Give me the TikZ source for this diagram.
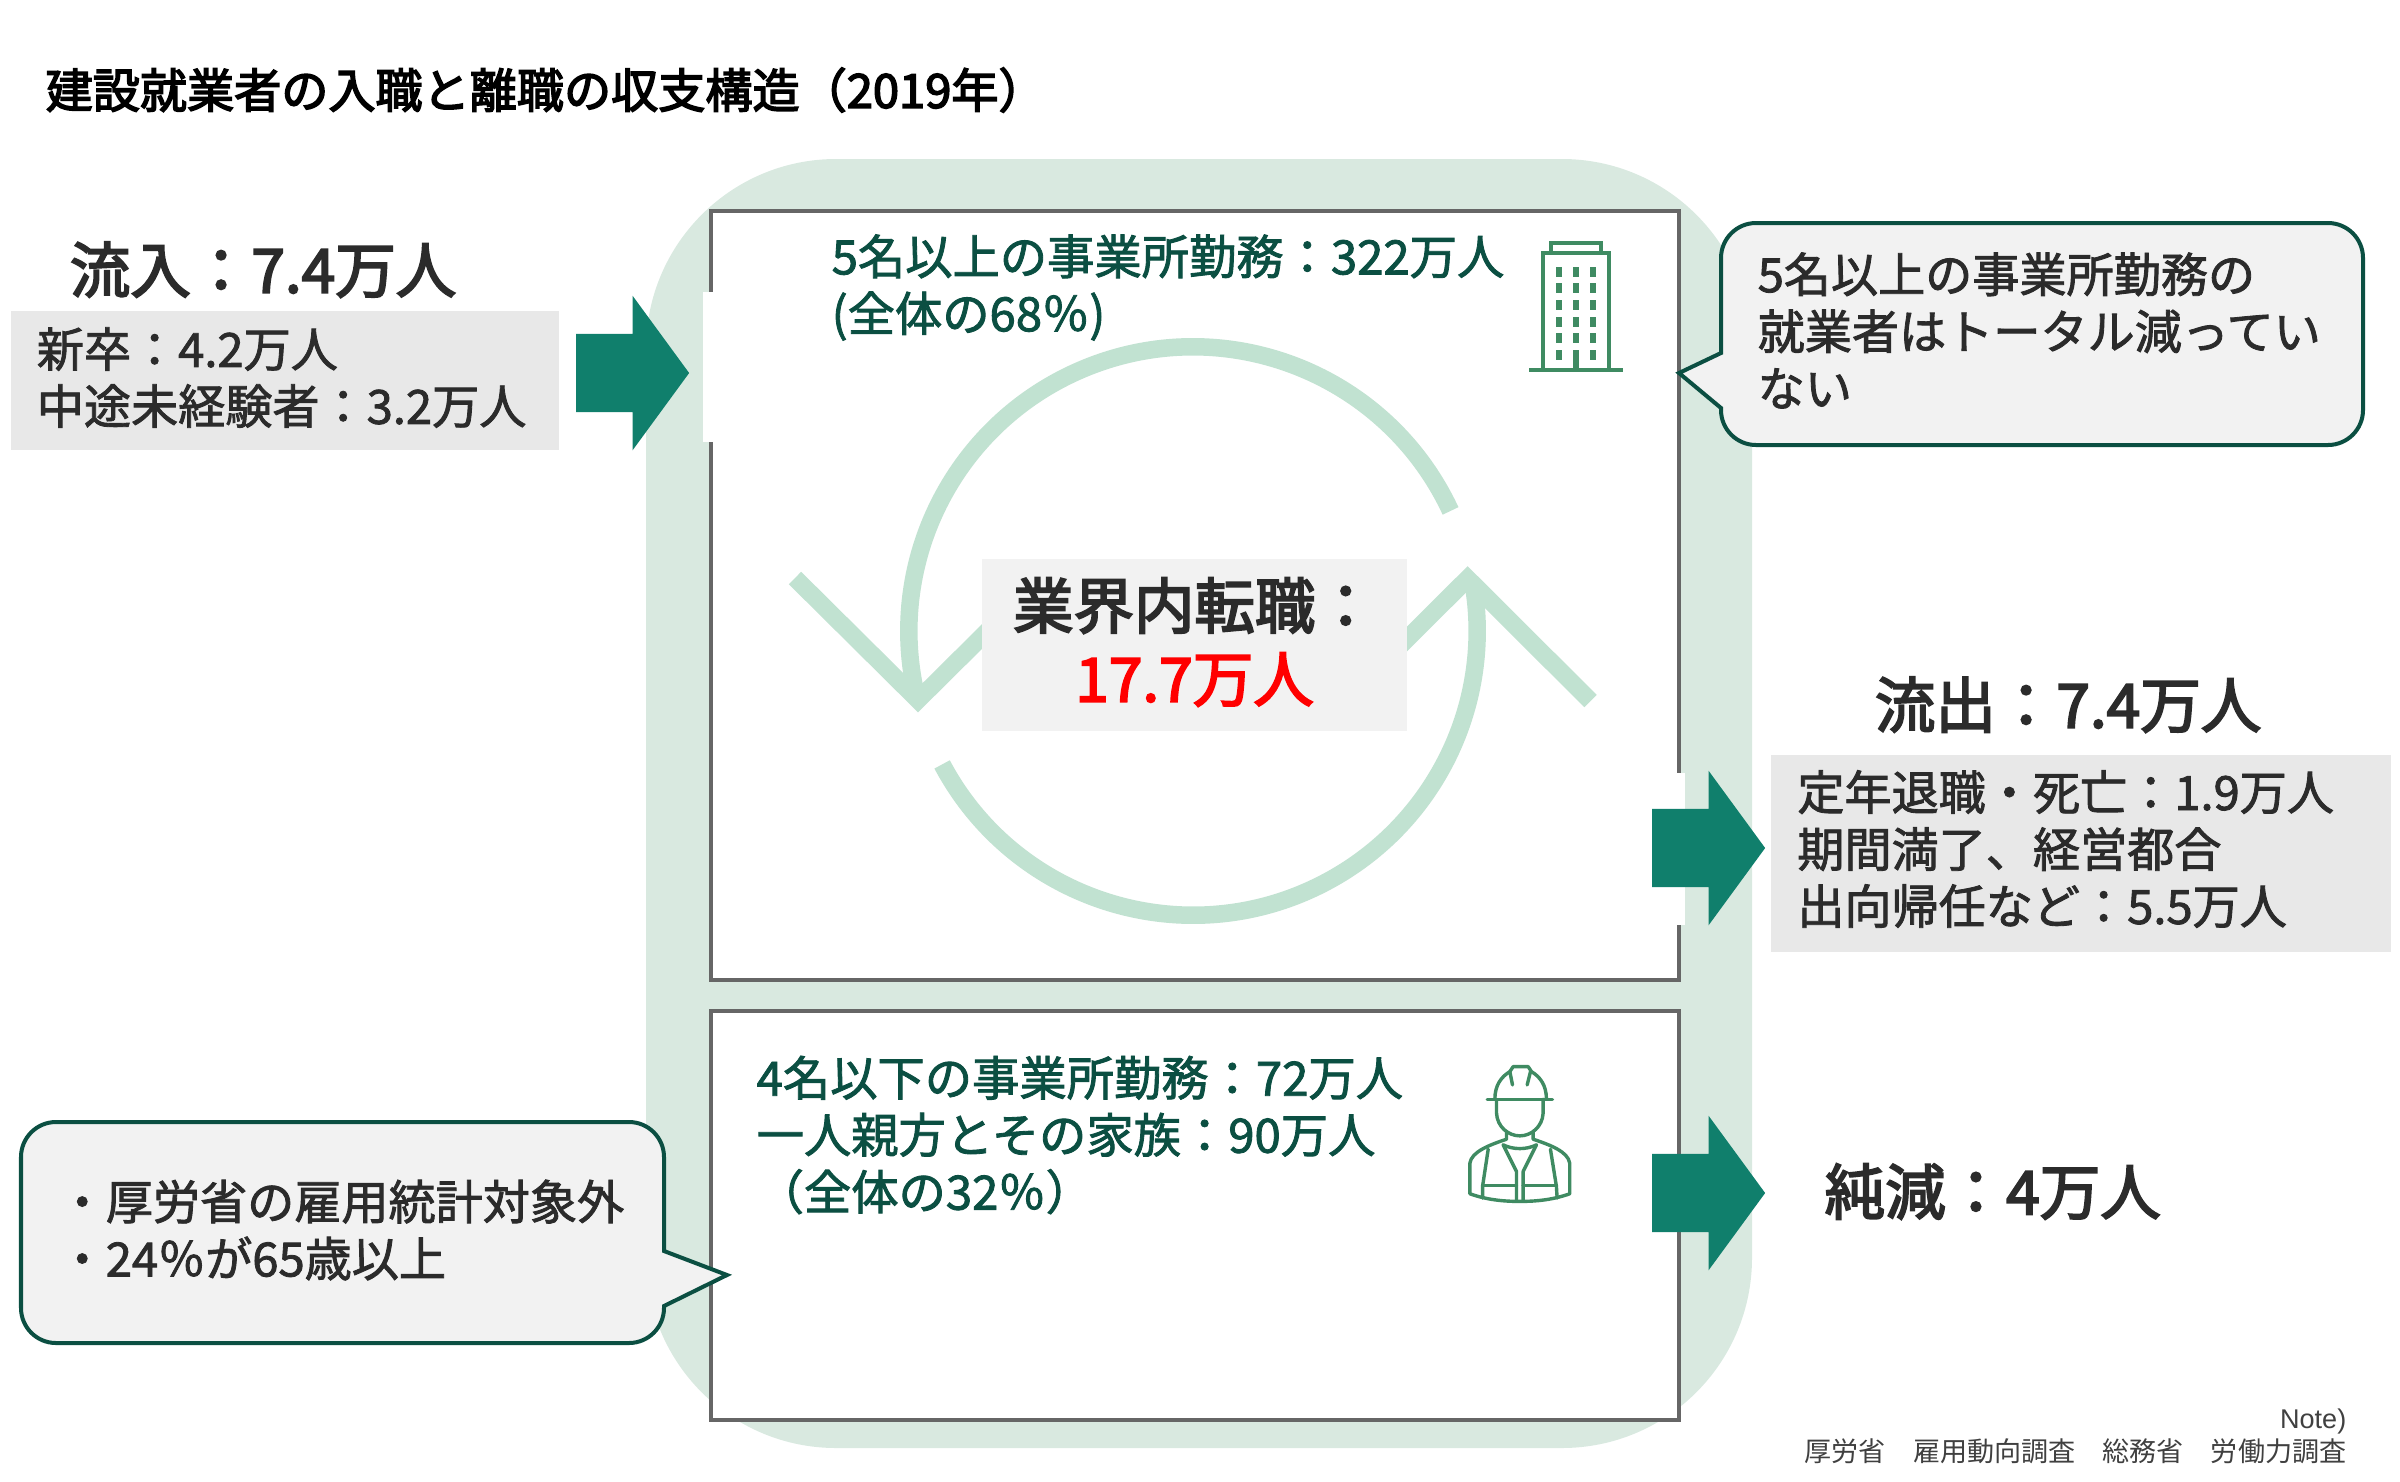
\documentclass[tikz,border=0pt]{standalone}
\usepackage{fontspec}
\usepackage{xcolor}
\usetikzlibrary{positioning,shapes.arrows}
\setmainfont{Noto Sans CJK JP}
\newfontfamily\jpmed[FakeBold=1.8]{Noto Sans CJK JP}
\newfontfamily\jpheavy[FakeBold=3.2]{Noto Sans CJK JP}
\newfontfamily\notefont{Liberation Sans}
\definecolor{poolgreen}{HTML}{D9E9E0}
\definecolor{ringgreen}{HTML}{C1E2D1}
\definecolor{arrowgreen}{HTML}{107F6C}
\definecolor{darkgreen}{HTML}{0B4F42}
\definecolor{icongreen}{HTML}{3F8B62}
\definecolor{boxline}{HTML}{666666}
\definecolor{inkgray}{HTML}{2B2B2B}

\begin{document}
\begin{tikzpicture}
[x=0.01cm, y=-0.01cm,
% STYLES
every node/.style={inner sep=0pt, font=\jpmed, text=inkgray},
% The sector style is used to draw the two white boxes
sector/.style={draw=boxline, fill=white, line width=0.04cm},
% The flowarrow style is used to draw the thick arrows
flowarrow/.style={shape=single arrow, fill=arrowgreen, inner xsep=0pt, inner ysep=0.385cm, minimum width=1.53cm, minimum height=1.13cm, single arrow head extend=0.38cm, single arrow tip angle=107.6, anchor=tip},
% The count style is used to draw the grey boxes with figures
count/.style={rectangle, fill=black!9, align=left, font=\jpmed\fontsize{13.4}{16.2}\selectfont},
heading/.style={font=\jpheavy\fontsize{17.2}{21}\selectfont},
sectortext/.style={anchor=west, align=left, text=darkgreen, font=\jpmed\fontsize{13.45}{16.2}\selectfont},
callout/.style={draw=darkgreen, fill=black!5, line width=0.04cm, line join=miter},
callouttext/.style={anchor=west, align=left, font=\jpmed\fontsize{13.4}{16.2}\selectfont},
ring/.style={draw=ringgreen, line width=0.175cm},
icon/.style={draw=icongreen, line width=0.034cm}]

\useasboundingbox (0,0) rectangle (2400,1481);

% Draw pool and sectors
\fill[poolgreen, rounded corners=1.9cm] (646,159) rectangle (1752,1448);
\draw[sector] (711,211) rectangle (1679,980);
\draw[sector] (711,1011) rectangle (1679,1420);
\fill[white] (703,292) rectangle (760,442);
\fill[white] (1650,773) rectangle (1685,925);

\node [anchor=west, font=\jpheavy\fontsize{13.4}{16}\selectfont, text=black] (title) at (45,90) {建設就業者の入職と離職の収支構造（2019年）};

% Draw ring
\coordinate (ringc) at (1193,631);
\draw[ring] (ringc) ++(25:2.84cm) arc[start angle=25, end angle=192, radius=2.84cm];
\draw[ring] (ringc) ++(208:2.84cm) arc[start angle=208, end angle=370, radius=2.84cm];
\draw[ring] (795,578) -- (918,700) -- (1041,578);
\draw[ring] (1345,701) -- (1467.6,578.5) -- (1590.5,701);
\node [rectangle, fill=black!5, minimum width=4.25cm, minimum height=1.72cm, text width=4.25cm, align=center, font=\jpheavy\fontsize{17.2}{20.8}\selectfont] (moves) at (1194.5,645) {業界内転職：\\ \textcolor{red}{17.7万人}\par\vspace{0.06cm}};

% Draw arrows
\node [flowarrow] (arrow-in) at (690,373) {};
\node [flowarrow] (arrow-out) at (1766,848) {};
\node [flowarrow] (arrow-net) at (1766,1193) {};

% Flows
\node [count, minimum width=5.48cm, minimum height=1.39cm, text width=4.96cm] (count-in) at (285,380.5) {新卒：4.2万人\\中途未経験者：3.2万人\par\vspace{0.06cm}};
\node [heading, above right=0.12cm and 0.59cm of count-in.north west] (head-in) {流入：7.4万人};
\node [count, minimum width=6.2cm, minimum height=1.97cm, text width=5.67cm] (count-out) at (2081,853.5) {定年退職・死亡：1.9万人\\期間満了、経営都合\\出向帰任など：5.5万人\par\vspace{0.09cm}};
\node [heading, above right=0.21cm and 1.04cm of count-out.north west] (head-out) {流出：7.4万人};
\node [heading, anchor=west] (head-net) at (1824,1191.5) {純減：4万人};

% Sector labels
\node [sectortext] (large) at (831,287.5) {5名以上の事業所勤務：322万人\\(全体の68％)};
\node [sectortext] (small) at (756,1135) {4名以下の事業所勤務：72万人\\一人親方とその家族：90万人\\（全体の32％）};

% Callouts
\draw[callout] (1721,353) [rounded corners=0.35cm] -- (1721,223) -- (2363,223) -- (2363,445) -- (1721,445) [sharp corners] -- (1721,408) -- (1679,373) -- cycle;
\node [callouttext] (note-large) at (1757,330.5) {5名以上の事業所勤務の\\就業者はトータル減ってい\\ない};
\draw[callout] (664,1251) [rounded corners=0.35cm] -- (664,1122) -- (21,1122) -- (21,1343) -- (664,1343) [sharp corners] -- (664,1306) -- (727,1275) -- cycle;
\node [callouttext] (note-small) at (58,1230) {・厚労省の雇用統計対象外\\・24％が65歳以上};

% Source
\node [anchor=north east, align=right, text=black!75, font=\fontsize{7.7}{9.4}\selectfont] (source) at (2347,1408) {{\notefont Note)}\\厚労省　雇用動向調査　総務省　労働力調査};

% Building icon
\draw[icon] (1529,370) -- (1623,370);
\draw[icon] (1543,370) -- (1543,253) -- (1609,253) -- (1609,370);
\draw[icon] (1551,253) -- (1551,243) -- (1601,243) -- (1601,253);
\foreach \wx in {1559,1576,1593}
  \foreach \wy in {272,288,305,322,338}
    \fill[icongreen] (\wx-3.3,\wy-5) rectangle (\wx+3.3,\wy+5);
\fill[icongreen] (1555.7,350) rectangle (1562.3,360);
\fill[icongreen] (1589.7,350) rectangle (1596.3,360);
\fill[icongreen] (1572.7,350) rectangle (1579.3,370);

% Worker icon
\begin{scope}[shift={(1400,1040)}, x=0.003333cm, y=-0.003333cm, icon, line cap=round, line join=round]
\draw (262,178) -- (458,178);
\draw (285,178) .. controls (285,135) and (305,110) .. (330,95) -- (340,80) -- (385,80) -- (395,95) .. controls (420,110) and (440,135) .. (440,178);
\draw (330,95) -- (338,135);
\draw (392,95) -- (382,135);
\draw (290,178) -- (290,220) .. controls (292,260) and (325,288) .. (360,288) .. controls (395,288) and (428,260) .. (430,220) -- (430,178);
\draw (320,275) -- (320,298) .. controls (270,315) and (215,335) .. (210,370) -- (210,462) .. controls (260,480) and (310,485) .. (360,485) .. controls (410,485) and (460,480) .. (510,462) -- (510,370) .. controls (505,335) and (450,315) .. (400,298) -- (400,275);
\draw (310,315) .. controls (340,330) and (380,330) .. (410,315);
\draw (310,315) -- (350,395) -- (350,480);
\draw (410,315) -- (370,395) -- (370,480);
\draw (265,328) -- (248,440) -- (248,475);
\draw (452,328) -- (470,440) -- (472,475);
\draw (248,438) -- (350,438);
\draw (370,438) -- (470,438);
\end{scope}

\end{tikzpicture}
\end{document}
